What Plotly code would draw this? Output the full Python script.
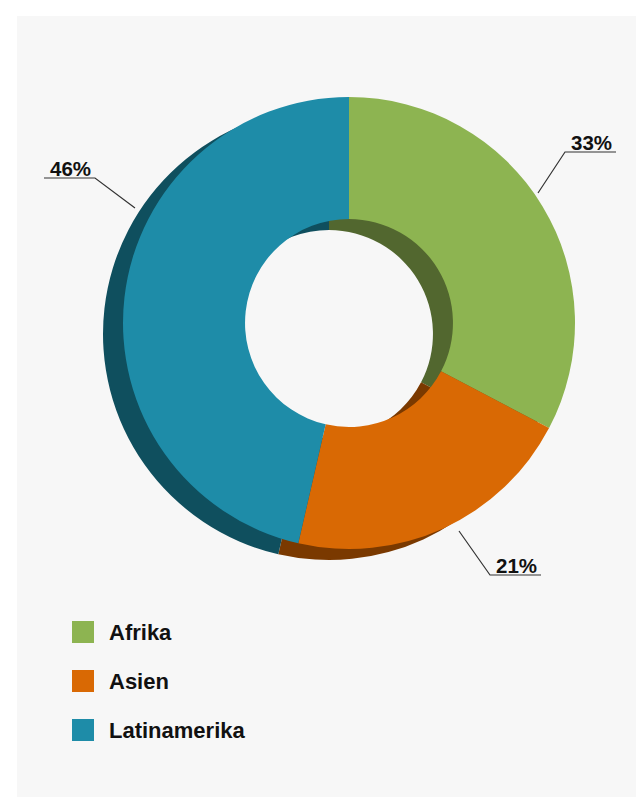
import plotly.graph_objects as go

# ---- data ----
categories = ["Afrika", "Asien", "Latinamerika"]
values = [32.7, 20.9, 46.4]
label_texts = ["33%", "21%", "46%"]

# ---- styles ----
front_colors = ["#8DB451", "#D96904", "#1E8CA8"]
back_colors = ["#52672F", "#7A3900", "#0F4F5E"]

W, H = 636, 797
FONT = "Liberation Sans, Arial, sans-serif"


def px(x):
    return x / W


def py(y):
    return 1 - y / H


def pie_domain(cx, cy, r):
    return dict(x=[px(cx - r), px(cx + r)], y=[py(cy + r), py(cy - r)])


R = 226
HOLE = 0.46
front_center = (349, 323)
back_center = (329, 334)

fig = go.Figure()

# back (extruded side) pie
fig.add_trace(go.Pie(
    labels=categories, values=values, sort=False, direction="clockwise", rotation=0,
    hole=HOLE, domain=pie_domain(back_center[0], back_center[1], R),
    marker=dict(colors=back_colors, line=dict(width=0)),
    textinfo="none", hoverinfo="skip", showlegend=False,
))
# front pie
fig.add_trace(go.Pie(
    labels=categories, values=values, sort=False, direction="clockwise", rotation=0,
    hole=HOLE, domain=pie_domain(front_center[0], front_center[1], R),
    marker=dict(colors=front_colors, line=dict(width=0)),
    textinfo="none", hoverinfo="skip", showlegend=False,
))

shapes = []
annotations = []

# background panel
shapes.append(dict(type="rect", xref="paper", yref="paper", layer="below",
                   x0=px(17), x1=1, y0=0, y1=py(16),
                   fillcolor="#F7F7F7", line=dict(width=0)))

# percentage labels with leader lines (start on ring, elbow, end of underline)
label_layout = {
    "33%": dict(start=(538, 193), elbow=(565, 152), end=(616, 152), tx=591, ty=142),
    "21%": dict(start=(459, 531), elbow=(490, 575), end=(541, 575), tx=516, ty=565),
    "46%": dict(start=(135, 208), elbow=(95, 178), end=(44, 178), tx=70, ty=168),
}
for t in label_texts:
    L = label_layout[t]
    (x0, y0), (x1, y1), (x2, y2) = L["start"], L["elbow"], L["end"]
    shapes.append(dict(type="path", xref="paper", yref="paper",
                       path=f"M {px(x0)},{py(y0)} L {px(x1)},{py(y1)} L {px(x2)},{py(y2)}",
                       line=dict(color="#333333", width=1.2)))
    annotations.append(dict(text=f"<b>{t}</b>", x=px(L["tx"]), y=py(L["ty"]),
                            xref="paper", yref="paper", showarrow=False,
                            xanchor="center", yanchor="middle",
                            font=dict(family=FONT, size=20.5, color="#111111")))

# legend
leg_x0, leg_y0, leg_step, sq = 72, 632, 49, 22
for i, (cat, col) in enumerate(zip(categories, front_colors)):
    cy = leg_y0 + i * leg_step
    shapes.append(dict(type="rect", xref="paper", yref="paper",
                       x0=px(leg_x0), x1=px(leg_x0 + sq), y0=py(cy + sq / 2), y1=py(cy - sq / 2),
                       fillcolor=col, line=dict(width=0)))
    annotations.append(dict(text=f"<b>{cat}</b>", x=px(107), y=py(cy),
                            xref="paper", yref="paper", showarrow=False,
                            xanchor="left", yanchor="middle",
                            font=dict(family=FONT, size=22, color="#111111")))

fig.update_layout(
    width=W, height=H, autosize=False,
    margin=dict(l=0, r=0, t=0, b=0),
    paper_bgcolor="#FFFFFF", plot_bgcolor="#FFFFFF",
    shapes=shapes, annotations=annotations, showlegend=False,
)

fig.write_html("out.html", post_script="document.body.style.margin='0';",
               config={"displayModeBar": False})
